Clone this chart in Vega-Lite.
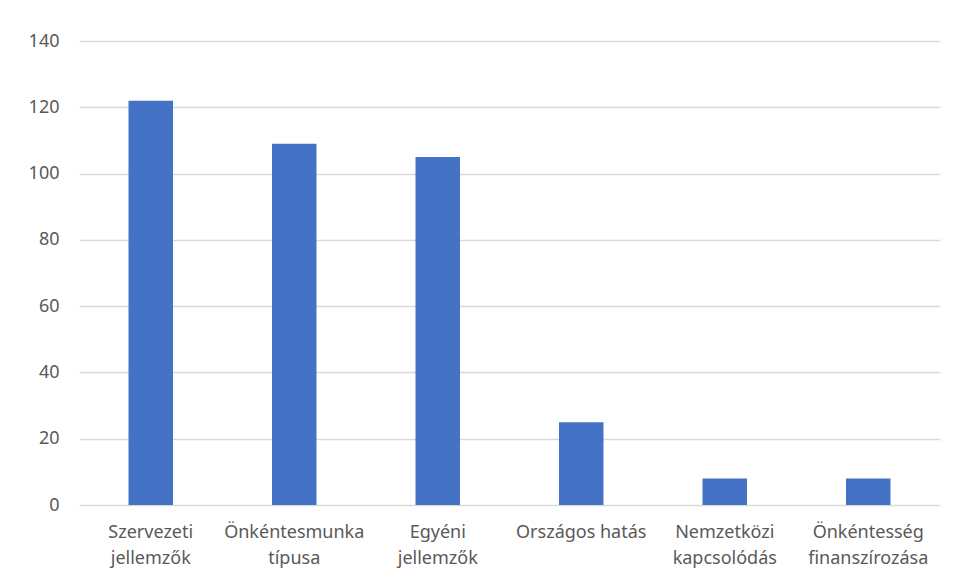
{
  "$schema": "https://vega.github.io/schema/vega-lite/v6.json",
  "width": 861,
  "height": 464,
  "autosize": {"type": "none"},
  "padding": {"left": 79, "top": 41, "right": 18, "bottom": 75},
  "background": "white",
  "config": {
    "view": {"stroke": null},
    "font": "Noto Sans"
  },
  "data": {
    "values": [
      {"kategoria": "Szervezeti jellemzők", "ertek": 122},
      {"kategoria": "Önkéntesmunka típusa", "ertek": 109},
      {"kategoria": "Egyéni jellemzők", "ertek": 105},
      {"kategoria": "Országos hatás", "ertek": 25},
      {"kategoria": "Nemzetközi kapcsolódás", "ertek": 8},
      {"kategoria": "Önkéntesség finanszírozása", "ertek": 8}
    ]
  },
  "mark": {"type": "bar", "color": "#4472C4"},
  "encoding": {
    "x": {
      "field": "kategoria",
      "type": "nominal",
      "sort": null,
      "scale": {"paddingInner": 0.69, "paddingOuter": 0.345},
      "axis": {
        "title": null,
        "labelAngle": 0,
        "domain": false,
        "ticks": false,
        "tickSize": 0,
        "labelPadding": 18,
        "labelFont": "Noto Sans",
        "labelFontSize": 18,
        "labelColor": "#595959",
        "labelLineHeight": 26,
        "labelLimit": 300,
        "labelExpr": "datum.label == 'Országos hatás' ? datum.label : split(datum.label, ' ')"
      }
    },
    "y": {
      "field": "ertek",
      "type": "quantitative",
      "scale": {"domain": [0, 140], "nice": false},
      "axis": {
        "title": null,
        "values": [0, 20, 40, 60, 80, 100, 120, 140],
        "domain": false,
        "ticks": false,
        "tickSize": 0,
        "labelPadding": 20,
        "labelFont": "Noto Sans",
        "labelFontSize": 18,
        "labelColor": "#595959",
        "gridColor": "#d9d9d9",
        "gridWidth": 1.5
      }
    }
  }
}
